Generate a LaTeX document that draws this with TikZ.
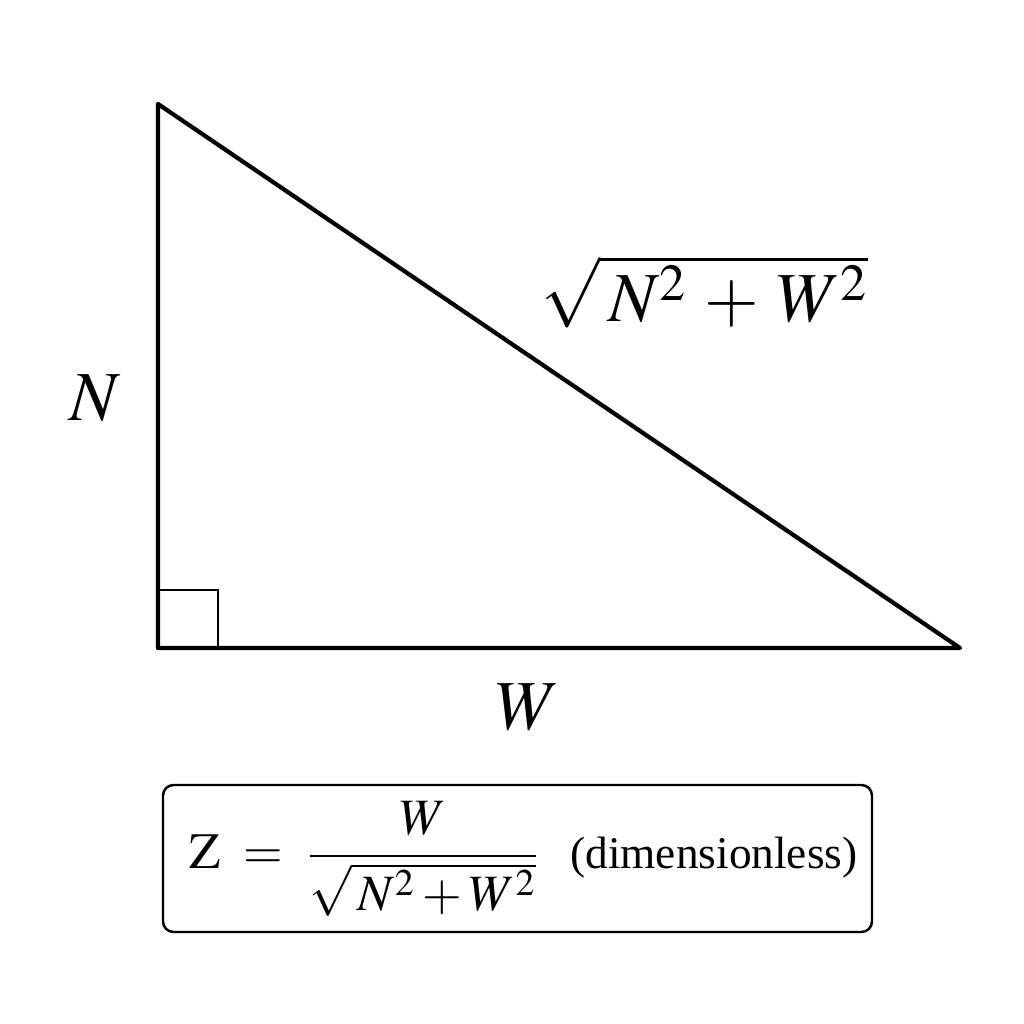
\documentclass[tikz,border=0pt]{standalone}
\usepackage{amsmath}
\usepackage{mathptmx}
\usepackage{fontspec}
\setmainfont{Liberation Serif}
\usepackage{xcolor}

\begin{document}
\begin{tikzpicture}[
  side/.style={line width=1.2pt, line join=round, line cap=round},
  corner/.style={line width=0.6pt},
  sidelabel/.style={font=\fontsize{20}{24}\selectfont},
  formulabox/.style={draw, line width=0.7pt, rounded corners=3pt,
    minimum width=7.09cm, minimum height=1.47cm},
  formula/.style={inner sep=0pt, font=\fontsize{14.5}{17}\selectfont}
]
  \useasboundingbox (0,0) rectangle (10.24,10.24);
  \coordinate (top) at (1.58,9.20);
  \coordinate (origin) at (1.58,3.76);
  \coordinate (right) at (9.60,3.76);
  \draw[side] (top) -- (origin) -- (right) -- cycle;
  \draw[corner] (1.58,4.34) -| (2.18,3.76);

  \node[sidelabel] (nlabel) at (0.95,6.26) {$N$};
  \node[sidelabel] (wlabel) at (5.28,3.17) {$W$};
  \node[sidelabel] (hyp) at (7.05,7.32) {$\sqrt{\,N^{2} \mkern2mu + \mkern2mu W^{2}}$};

  \node[formulabox] (zbox) at (5.175,1.655) {};
  \node[formula] (zformula) at (5.235,1.655)
    {$\mathrm{Z} \;=\; \dfrac{W}{\sqrt{\,N^2 + W^2}}$\hspace{0.3cm}{\fontsize{12.9}{15}\selectfont(dimensionless)}};
\end{tikzpicture}
\end{document}
